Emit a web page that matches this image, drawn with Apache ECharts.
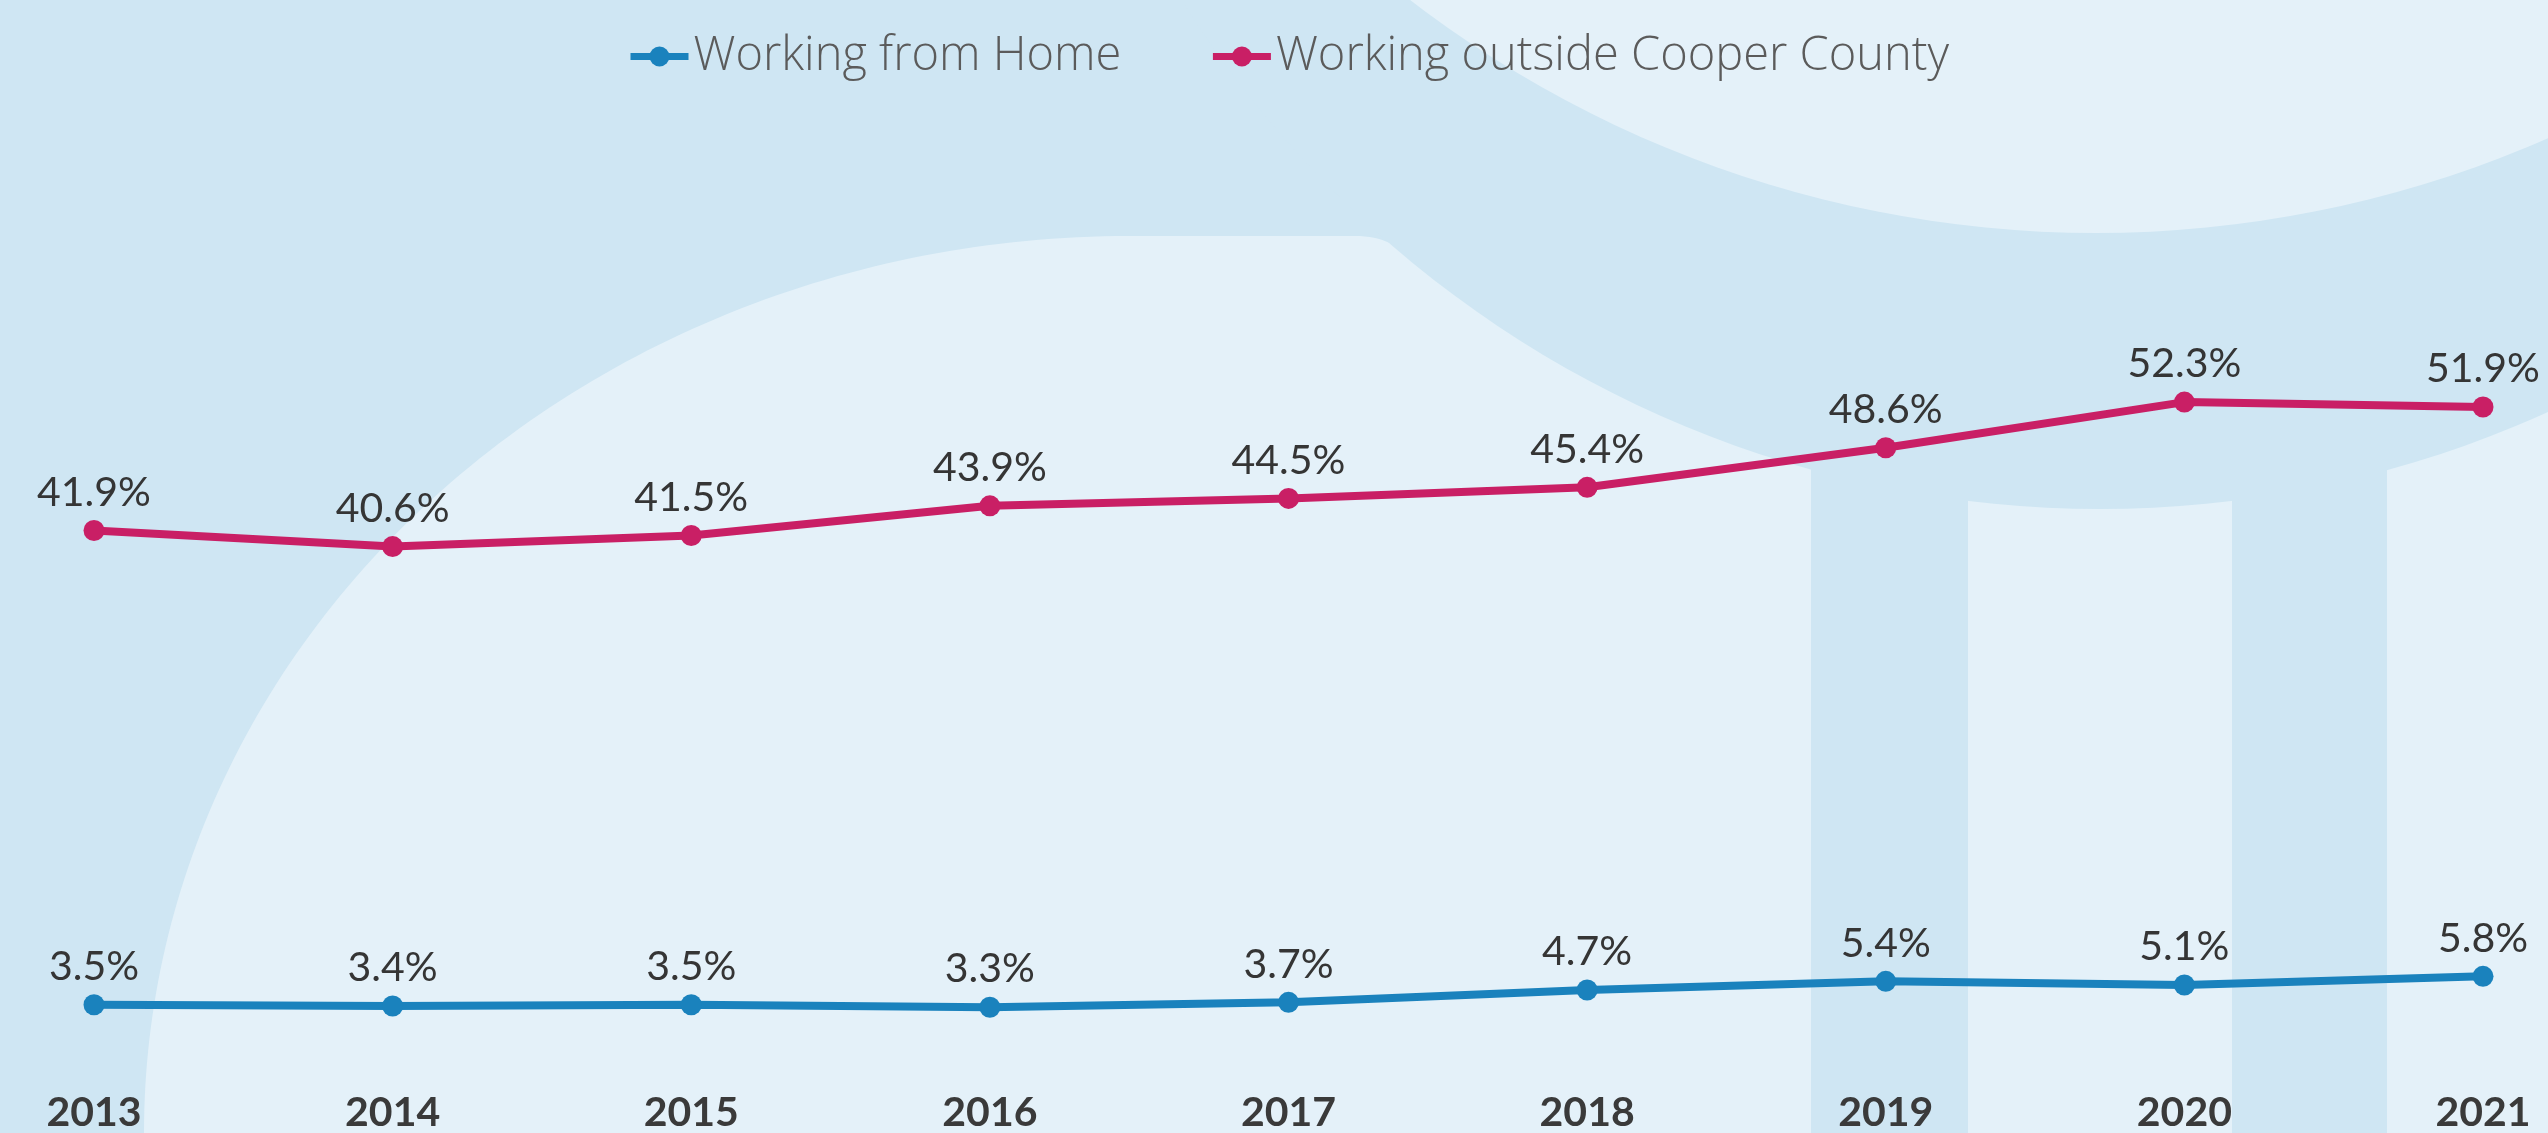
<!DOCTYPE html>
<html>
<head>
<meta charset="utf-8">
<title>Commuting trends, Cooper County</title>
<script src="https://cdn.jsdelivr.net/npm/echarts@6/dist/echarts.min.js"></script>
<style>
  html, body { margin: 0; padding: 0; width: 100%; height: 100%; overflow: hidden; }
  #chart { width: 2548px; height: 1133px; }
</style>
</head>
<body>
<div id="chart"></div>
<script>
// Survey years and shares of workers (%)
const years = ['2013', '2014', '2015', '2016', '2017', '2018', '2019', '2020', '2021'];
const workingFromHome = [3.5, 3.4, 3.5, 3.3, 3.7, 4.7, 5.4, 5.1, 5.8];
const workingOutsideCounty = [41.9, 40.6, 41.5, 43.9, 44.5, 45.4, 48.6, 52.3, 51.9];

const seriesNames = ['Working from Home', 'Working outside Cooper County'];
const seriesColors = ['#1a82bd', '#c91f65'];

const DARK_BG = '#cfe6f3';
const LIGHT_BG = '#e4f1f9';

// ---- decorative backdrop shapes -------------------------------------
// quarter ellipse forming the rounded left shoulder of the light panel
function ellipseArc(cx, cy, rx, ry, a0, a1, steps) {
  const out = [];
  for (let s = 0; s <= steps; s++) {
    const a = a0 + (a1 - a0) * s / steps;
    out.push([cx + rx * Math.cos(a), cy + ry * Math.sin(a)]);
  }
  return out;
}
function quad(a, c, b, steps) {
  const out = [];
  for (let s = 1; s <= steps; s++) {
    const t = s / steps, u = 1 - t;
    out.push([u * u * a[0] + 2 * u * t * c[0] + t * t * b[0], u * u * a[1] + 2 * u * t * c[1] + t * t * b[1]]);
  }
  return out;
}

const shoulder = ellipseArc(1129, 1133, 985, 897, Math.PI, Math.PI * 1.5, 120);
const panelShape = shoulder
  .concat([[1355, 236]])
  .concat(quad([1355, 236], [1386, 236], [1402, 252], 12))
  .concat([[2548, 236], [2548, 1133], [144, 1133]]);

const backdrop = [
  { type: 'polygon', silent: true, z: -10, shape: { points: panelShape }, style: { fill: LIGHT_BG } },
  { type: 'circle', silent: true, z: -9, shape: { cx: 2100, cy: -574, r: 1083 }, style: { fill: DARK_BG } },
  { type: 'circle', silent: true, z: -8, shape: { cx: 2096, cy: -893, r: 1126 }, style: { fill: LIGHT_BG } },
  { type: 'rect', silent: true, z: -7, shape: { x: 1811, y: 420, width: 157, height: 720 }, style: { fill: DARK_BG } },
  { type: 'rect', silent: true, z: -7, shape: { x: 2232, y: 420, width: 155, height: 720 }, style: { fill: DARK_BG } }
];

// ---- chart -----------------------------------------------------------
const chart = echarts.init(document.getElementById('chart'), null, { renderer: 'canvas' });

const labelStyle = {
  show: true,
  position: 'top',
  distance: 7,
  fontFamily: 'Lato',
  fontSize: 41,
  color: '#353535',
  formatter: p => p.value.toFixed(1) + '%'
};

function lineSeries(name, values, color) {
  return {
    name: name,
    type: 'line',
    data: values,
    symbol: 'circle',
    symbolSize: 21,
    itemStyle: { color: color },
    lineStyle: { color: color, width: 8 },
    label: labelStyle,
    emphasis: { disabled: true },
    animation: false
  };
}

chart.setOption({
  backgroundColor: DARK_BG,
  graphic: { elements: backdrop },
  legend: {
    left: 622,
    top: 28,
    itemWidth: 58,
    itemHeight: 25,
    itemGap: 88,
    lineStyle: { width: 7 },
    textStyle: { fontFamily: 'Open Sans', fontWeight: 300, fontSize: 47, color: '#5b5b5b' },
    data: seriesNames
  },
  grid: { left: 94, right: 65, top: 307, bottom: 79, containLabel: false },
  xAxis: {
    type: 'category',
    data: years,
    boundaryGap: false,
    axisLine: { show: false },
    axisTick: { show: false },
    splitLine: { show: false },
    axisLabel: { margin: 44, fontFamily: 'Lato', fontWeight: 'bold', fontSize: 41, color: '#3a3a3a' }
  },
  yAxis: {
    type: 'value',
    min: 0,
    max: 60,
    interval: 10,
    show: false,
    splitLine: { show: false }
  },
  series: [
    lineSeries(seriesNames[0], workingFromHome, seriesColors[0]),
    lineSeries(seriesNames[1], workingOutsideCounty, seriesColors[1])
  ]
});
</script>
</body>
</html>
